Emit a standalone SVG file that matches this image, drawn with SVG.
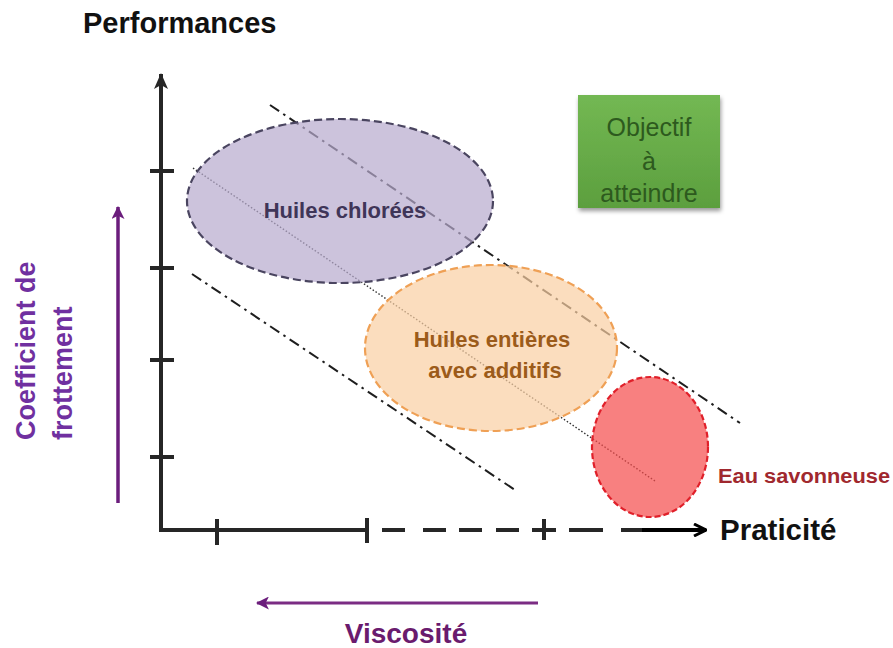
<svg xmlns="http://www.w3.org/2000/svg" width="893" height="648" viewBox="0 0 893 648">
<defs>
<style>
.t{font-family:"Liberation Sans",Arial,sans-serif;font-weight:bold}
.ax{stroke:#262626;stroke-width:4;fill:none}
.dd{stroke:#1e1e1e;stroke-width:2;fill:none;stroke-dasharray:11 5 2.5 5}
.dot{stroke:#333;stroke-width:1.4;fill:none;stroke-dasharray:1.5 2}
</style>
<linearGradient id="g" x1="0" y1="0" x2="0" y2="1">
<stop offset="0" stop-color="#73B853"/>
<stop offset="1" stop-color="#5C9F3E"/>
</linearGradient>
<filter id="sh" x="-20%" y="-20%" width="140%" height="140%">
<feDropShadow dx="1" dy="3" stdDeviation="2" flood-color="#000" flood-opacity="0.4"/>
</filter>
<marker id="ah" markerWidth="16" markerHeight="16" viewBox="0 0 16 16" refX="15" refY="8" orient="auto" markerUnits="userSpaceOnUse">
<path d="M0,1 L16,8 L0,15 L4,8 Z" fill="#262626"/>
</marker>
<marker id="ahb" markerWidth="14" markerHeight="14" viewBox="0 0 14 14" refX="13" refY="7" orient="auto" markerUnits="userSpaceOnUse">
<path d="M1,1 L13,7 L1,13" fill="none" stroke="#000" stroke-width="3"/>
</marker>
<marker id="ap" markerWidth="13" markerHeight="13" viewBox="0 0 12 12" refX="11" refY="6" orient="auto" markerUnits="userSpaceOnUse">
<path d="M0,0 L12,6 L0,12 L3,6 Z" fill="#6B1D7C"/>
</marker>
</defs>
<rect width="893" height="648" fill="#fff"/>

<text class="t" x="83" y="33" font-size="29" fill="#111">Performances</text>

<g id="connectors">
<line class="dd" x1="270" y1="105" x2="740" y2="423"/>
<line class="dd" x1="192" y1="274" x2="515" y2="490"/>
<line class="dot" x1="193" y1="168" x2="655" y2="481"/>
</g>

<g id="axes">
<line class="ax" x1="161" y1="532" x2="161" y2="74" marker-end="url(#ah)"/>
<line class="ax" x1="150" y1="171" x2="174" y2="171"/>
<line class="ax" x1="150" y1="268" x2="174" y2="268"/>
<line class="ax" x1="150" y1="360" x2="174" y2="360"/>
<line class="ax" x1="150" y1="457" x2="174" y2="457"/>
<line class="ax" x1="159" y1="530" x2="367" y2="530"/>
<line class="ax" x1="217" y1="519" x2="217" y2="545"/>
<line class="ax" x1="367" y1="518" x2="367" y2="543"/>
<path class="ax" d="M382,530 H405 M423,530 H446 M459,530 H482 M496,530 H519 M532,530 H556 M569,530 H603 M621,530 H642"/>
<line class="ax" x1="544" y1="519" x2="544" y2="540" stroke-width="2.5"/>
<line x1="642" y1="530" x2="706" y2="530" stroke="#000" stroke-width="4" marker-end="url(#ahb)"/>
</g>

<g id="huiles-chlorees">
<ellipse cx="340" cy="201" rx="153" ry="82" fill="#B6A9CD" fill-opacity="0.7" stroke="#4A4560" stroke-width="2.2" stroke-dasharray="8 4"/>
<text class="t" x="345" y="218" font-size="22" fill="#3F3558" text-anchor="middle">Huiles chlorées</text>
</g>

<g id="huiles-entieres">
<ellipse cx="491" cy="348" rx="126" ry="83" fill="#F9CFA2" fill-opacity="0.7" stroke="#EFA055" stroke-width="2.2" stroke-dasharray="8 4"/>
<text class="t" font-size="22" fill="#9C5B1A" text-anchor="middle"><tspan x="492" y="347">Huiles entières</tspan><tspan x="495" y="378">avec additifs</tspan></text>
</g>

<g id="eau-savonneuse">
<ellipse cx="650" cy="447" rx="58" ry="70" fill="#F54A4A" fill-opacity="0.7" stroke="#E0202A" stroke-width="2.2" stroke-dasharray="6 3"/>
<text class="t" x="718" y="483" font-size="20" fill="#A0282E" textLength="172" lengthAdjust="spacingAndGlyphs">Eau savonneuse</text>
</g>

<g id="objectif">
<rect x="578" y="95" width="142" height="113" fill="url(#g)" filter="url(#sh)"/>
<text font-family="Liberation Sans,Arial,sans-serif" font-size="25" fill="#2D5A1E" text-anchor="middle"><tspan x="649" y="136">Objectif</tspan><tspan x="649" y="170">à</tspan><tspan x="649" y="202">atteindre</tspan></text>
</g>

<text class="t" x="720" y="540" font-size="29.5" fill="#111">Praticité</text>

<g id="coefficient">
<line x1="118" y1="503" x2="118" y2="207" stroke="#6B1D7C" stroke-width="3.5" marker-end="url(#ap)"/>
<text class="t" font-size="27" fill="#7030A0" transform="translate(35,440) rotate(-90)">Coefficient de</text>
<text class="t" font-size="27" fill="#7030A0" transform="translate(72,440) rotate(-90)">frottement</text>
</g>

<g id="viscosite">
<line x1="538" y1="603" x2="257" y2="603" stroke="#7B2C83" stroke-width="3" marker-end="url(#ap)"/>
<text class="t" x="406" y="643" font-size="28" fill="#6A1B6E" text-anchor="middle">Viscosité</text>
</g>
</svg>
